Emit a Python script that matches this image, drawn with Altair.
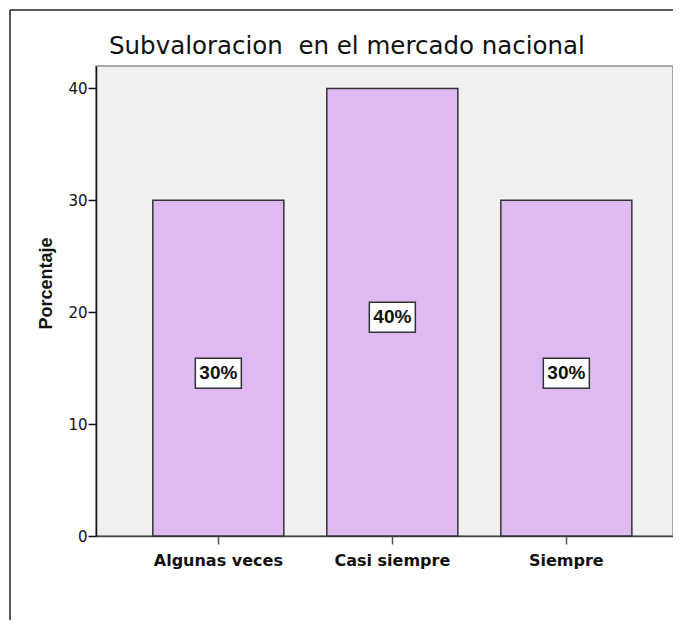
import altair as alt
import pandas as pd

title_text = ["Subvaloracion\u00a0 en el mercado nacional"]
categories = ["Algunas veces", "Casi siempre", "Siempre"]
values = [30, 40, 30]
labels = ["30%", "40%", "30%"]

df = pd.DataFrame({"cat": categories, "val": values, "lab": labels})

x_enc = alt.X(
    "cat:N",
    sort=categories,
    title=None,
    scale=alt.Scale(paddingInner=0.247, paddingOuter=0.2815, align=0.58),
    axis=alt.Axis(
        labelAngle=0,
        labelFont="DejaVu Sans",
        labelFontSize=16,
        labelFontWeight="bold",
        labelColor="#111111",
        labelPadding=8,
        tickSize=8,
        tickColor="#555555",
        tickWidth=1.5,
        domainColor="#444444",
        domainWidth=1.5,
    ),
)

y_scale = alt.Scale(domain=[0, 42], nice=False)

bars = alt.Chart(df).mark_bar(
    fill="#DEB9F2", stroke="#333333", strokeWidth=1.5
).encode(
    x=x_enc,
    y=alt.Y(
        "val:Q",
        scale=y_scale,
        title="Porcentaje",
        axis=alt.Axis(
            values=[0, 10, 20, 30, 40],
            grid=False,
            labelFont="DejaVu Sans",
            labelFontSize=15,
            labelColor="#111111",
            labelPadding=1,
            tickSize=8,
            tickColor="#111111",
            tickWidth=1.5,
            domainColor="#111111",
            domainWidth=1.5,
            titleFont="Liberation Sans",
            titleFontSize=18,
            titleFontWeight="bold",
            titleColor="#111111",
            titleAngle=-90,
            titleBaseline="alphabetic",
            titleX=-45,
            titleY=217,
        ),
    ),
)

base = alt.Chart(df).transform_calculate(mid="datum.val / 2")

boxes = base.mark_point(
    shape="M-1,-0.652L1,-0.652L1,0.652L-1,0.652Z",
    filled=True,
    fill="white",
    stroke="#333333",
    strokeWidth=1.5,
    opacity=1,
    size=2116,
    yOffset=5,
).encode(
    x=alt.X("cat:N", sort=categories),
    y=alt.Y("mid:Q", scale=y_scale),
)

texts = base.mark_text(
    font="Liberation Sans",
    fontSize=19,
    fontWeight="bold",
    color="#111111",
    baseline="middle",
    yOffset=5,
).encode(
    x=alt.X("cat:N", sort=categories),
    y=alt.Y("mid:Q", scale=y_scale),
    text="lab:N",
)

title_df = pd.DataFrame({"t": title_text})
title_mark = alt.Chart(title_df).mark_text(
    font="DejaVu Sans",
    fontSize=24.5,
    color="#111111",
    align="left",
    baseline="alphabetic",
).encode(
    x=alt.value(13),
    y=alt.value(-12),
    text="t:N",
)

frame_data = alt.Data(values=[{"k": 1}])
frame_left = alt.Chart(frame_data).mark_rule(color="#222222", strokeWidth=1.5).encode(
    x=alt.value(-86), y=alt.value(-56), y2=alt.value(700)
)
frame_top = alt.Chart(frame_data).mark_rule(color="#222222", strokeWidth=1.5).encode(
    x=alt.value(-86), x2=alt.value(700), y=alt.value(-56)
)

chart = alt.layer(bars, boxes, texts, title_mark, frame_left, frame_top).properties(
    width=577,
    height=470,
    autosize=alt.AutoSizeParams(type="none"),
    padding={"left": 88, "top": 58, "right": 0, "bottom": 84},
).configure(
    background="white",
    view=alt.ViewConfig(fill="#F0F0F0", stroke="#8C8C8C", strokeWidth=1.5),
)

chart.save("out.html", embed_options={"renderer": "svg", "actions": False})
